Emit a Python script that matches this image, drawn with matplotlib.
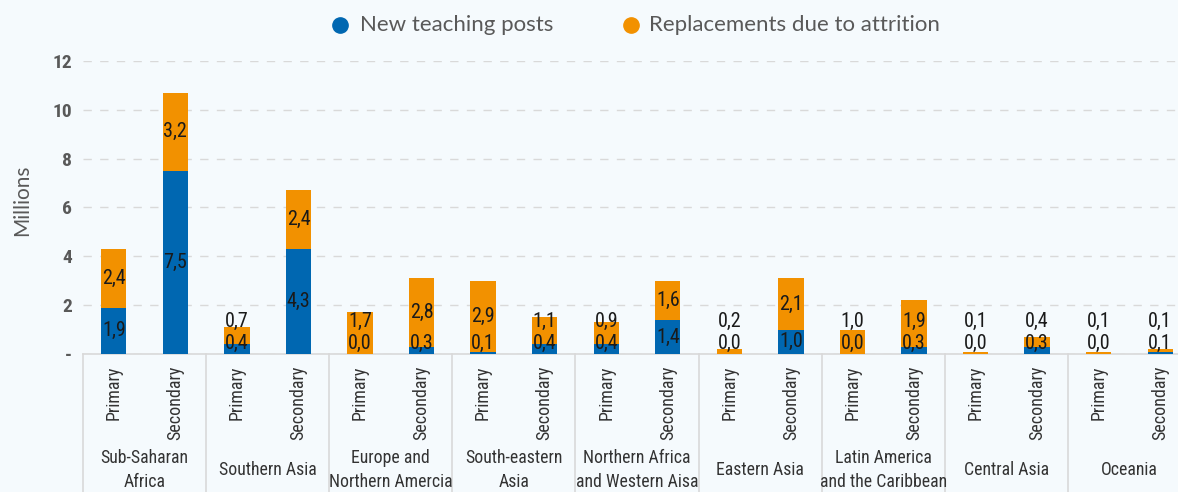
import matplotlib
matplotlib.use("Agg")
import matplotlib.pyplot as plt
from matplotlib import font_manager
from matplotlib.lines import Line2D
from matplotlib.transforms import blended_transform_factory

# ---------------- data ----------------
regions = ["Sub-Saharan\nAfrica", "Southern Asia", "Europe and\nNorthern Amercia",
           "South-eastern\nAsia", "Northern Africa\nand Western Aisa", "Eastern Asia",
           "Latin America\nand the Caribbean", "Central Asia", "Oceania"]
levels = ["Primary", "Secondary"]
new_posts = [1.9, 7.5, 0.4, 4.3, 0.0, 0.3, 0.1, 0.4, 0.4, 1.4, 0.0, 1.0, 0.0, 0.3, 0.0, 0.3, 0.0, 0.1]
replacements = [2.4, 3.2, 0.7, 2.4, 1.7, 2.8, 2.9, 1.1, 0.9, 1.6, 0.2, 2.1, 1.0, 1.9, 0.1, 0.4, 0.1, 0.1]
series_names = ["New teaching posts", "Replacements due to attrition"]
yticks = [0, 2, 4, 6, 8, 10, 12]
ytick_labels = ["-", "2", "4", "6", "8", "10", "12"]

BLUE = "#0067b1"
ORANGE = "#f29100"
BG = "#f5fafd"

available = {f.name for f in font_manager.fontManager.ttflist}
def pick(*names):
    for n in names:
        if n in available:
            return n
    return "DejaVu Sans"

NARROW = pick("Liberation Sans Narrow", "Roboto Condensed", "Liberation Sans")
REG = pick("Lato", "Open Sans", "Noto Sans")

W, H = 1178, 492
fig = plt.figure(figsize=(W / 100, H / 100), dpi=100, facecolor=BG)
ax_left, ax_right, ax_top, ax_bot = 83, 1191, 61, 354
ax = fig.add_axes([ax_left / W, (H - ax_bot) / H, (ax_right - ax_left) / W, (ax_bot - ax_top) / H])
ax.set_facecolor(BG)

n = len(new_posts)
x = list(range(n))
ax.bar(x, new_posts, width=0.41, color=BLUE, zorder=3)
ax.bar(x, replacements, width=0.41, bottom=new_posts, color=ORANGE, zorder=3)

ax.set_xlim(-0.5, n - 0.5)
ax.set_ylim(0, 12)
ax.set_yticks(yticks)
ax.set_yticklabels(ytick_labels, fontfamily=NARROW, fontweight="bold", fontsize=14, color="#595959")
ax.tick_params(axis="y", length=0, pad=8)
ax.set_xticks([])
ax.grid(axis="y", color="#d9d9d9", linestyle=(0, (6, 6)), linewidth=1, zorder=0)
for s in ["top", "right", "left"]:
    ax.spines[s].set_visible(False)
ax.spines["bottom"].set_color("#d9d9d9")
ax.spines["bottom"].set_linewidth(1.2)

def fmt(v):
    return f"{v:.1f}".replace(".", ",")

# data labels
for i in range(n):
    b, o = new_posts[i], replacements[i]
    y_low = max(b / 2, 0.45)
    y_up = max(b + o / 2, y_low + 0.87)
    ax.text(i, y_low, fmt(b), ha="center", va="center", fontsize=14.5,
            fontfamily=NARROW, color="#1a1a1a", zorder=4)
    ax.text(i, y_up, fmt(o), ha="center", va="center", fontsize=14.5,
            fontfamily=NARROW, color="#1a1a1a", zorder=4)

ax_h = ax_bot - ax_top
tr = blended_transform_factory(ax.transData, ax.transAxes)
# separators
for g in range(len(regions) + 1):
    xs = 2 * g - 0.5
    ax.plot([xs, xs], [0, -(H - ax_bot) / ax_h], transform=tr, color="#d9d9d9",
            linewidth=1.2, clip_on=False, zorder=1)

# level labels
for i in range(n):
    ax.text(i, -(366 - ax_bot) / ax_h, levels[i % 2], transform=tr, rotation=90,
            ha="center", va="top", fontsize=13, fontfamily=NARROW, color="#333333")

# group labels
for g, name in enumerate(regions):
    ax.text(2 * g + 0.5, -(470 - ax_bot) / ax_h, name, transform=tr, ha="center",
            va="center", fontsize=12.8, fontfamily=NARROW, color="#333333", linespacing=1.42)

# y label
fig.text(22 / W, 1 - 200 / H, "Millions", rotation=90, ha="center", va="center",
         fontsize=15, fontfamily=REG, color="#595959")

# legend
for cx, col, tx, name in [(340, BLUE, 360, series_names[0]), (631, ORANGE, 649, series_names[1])]:
    fig.add_artist(Line2D([cx / W], [1 - 25 / H], transform=fig.transFigure, marker="o",
                          markersize=11, color=col, linestyle="none"))
    fig.text(tx / W, 1 - 25 / H, name, ha="left", va="center", fontsize=16,
             fontfamily=REG, color="#595959")

fig.savefig("out.png", dpi=100, facecolor=BG)
